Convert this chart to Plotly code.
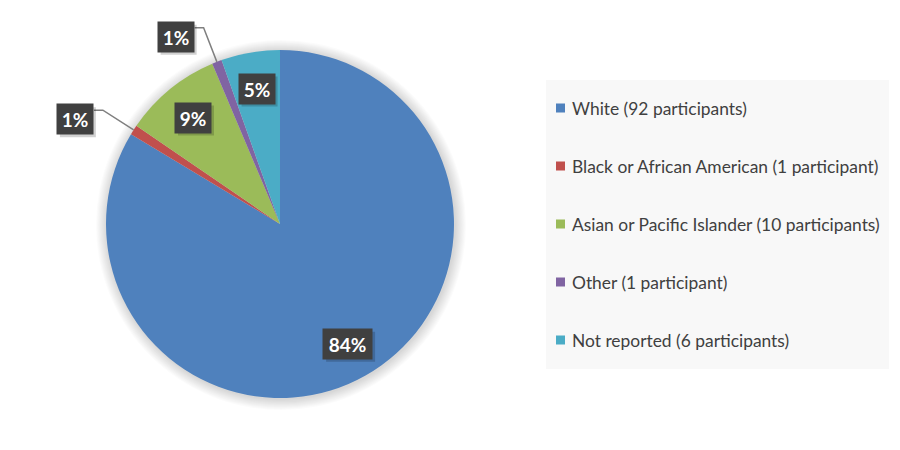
import math
import plotly.graph_objects as go

# data
categories = ["White", "Black or African American", "Asian or Pacific Islander",
              "Other", "Not reported"]
participants = [92, 1, 10, 1, 6]
colors = ["#4F81BD", "#C0504D", "#9BBB59", "#8064A2", "#4BACC6"]

W, H = 900, 450
OFF = 8                              # page body margin
cx, cy, R = 280, 224, 174            # pie centre and radius (window pixels)
total = sum(participants)


def px(x, y):
    """window pixel -> paper coordinates"""
    return (x - OFF) / W, 1 - (y - OFF) / H


fig = go.Figure()

d0 = px(cx - R, cy + R)
d1 = px(cx + R, cy - R)
fig.add_trace(go.Pie(
    labels=categories,
    values=participants,
    marker=dict(colors=colors, line=dict(width=0)),
    sort=False,
    direction="clockwise",
    rotation=0,
    textinfo="none",
    hoverinfo="label+value+percent",
    showlegend=False,
    domain=dict(x=[d0[0], d1[0]], y=[d0[1], d1[1]]),
))

shapes = []
annotations = []

# soft shadow round the pie
for i in range(1, 11):
    r = R + i * 1.1
    x0, y0 = px(cx - r + 1, cy - r + 1)
    x1, y1 = px(cx + r + 1, cy + r + 1)
    shapes.append(dict(type="circle", xref="paper", yref="paper", layer="below",
                       x0=x0, y0=y1, x1=x1, y1=y0, line=dict(width=0),
                       fillcolor="rgba(0,0,0,0.016)"))


def label_box(x, y, text):
    tw = 13 * len(text) + 4
    w, h = tw + 6, 30
    a = px(x - w / 2 + 3, y - h / 2 + 3)
    b = px(x + w / 2 + 3, y + h / 2 + 3)
    shapes.append(dict(type="rect", xref="paper", yref="paper",
                       x0=a[0], y0=b[1], x1=b[0], y1=a[1],
                       line=dict(width=0), fillcolor="rgba(0,0,0,0.18)"))
    ax, ay = px(x, y)
    annotations.append(dict(x=ax, y=ay, xref="paper", yref="paper", showarrow=False,
                            xanchor="center", yanchor="middle",
                            width=tw, height=h - 6, borderpad=3,
                            text="<b>%s</b>" % text, bgcolor="#404040",
                            font=dict(family="Lato", size=19, color="white")))


# percentage labels, placed from the slice angles
cum = 0
for val in participants:
    mid = (cum + val / 2) / total * 2 * math.pi
    cum += val
    pct = "%d%%" % round(val / total * 100)
    if val / total > 0.02:
        rr = 0.79 * R
        label_box(cx + math.sin(mid) * rr, cy - math.cos(mid) * rr, pct)
    else:
        ex, ey = cx + math.sin(mid) * R, cy - math.cos(mid) * R
        bx, by = cx + math.sin(mid) * 1.21 * R, cy - math.cos(mid) * 1.21 * R
        tx = bx - 9
        p = [px(ex, ey), px(bx, by), px(tx, by)]
        path = "M %f %f L %f %f L %f %f" % (p[0][0], p[0][1], p[1][0], p[1][1],
                                            p[2][0], p[2][1])
        shapes.append(dict(type="path", xref="paper", yref="paper", path=path,
                           line=dict(color="#7F7F7F", width=1.5)))
        label_box(tx - 19, by + 9, pct)

# legend
a = px(546, 80)
b = px(889, 369)
shapes.append(dict(type="rect", xref="paper", yref="paper", x0=a[0], y0=b[1],
                   x1=b[0], y1=a[1], line=dict(width=0), fillcolor="#F8F8F8",
                   layer="below"))
for i, (cat, n, col) in enumerate(zip(categories, participants, colors)):
    yy = 108 + i * 58
    s0 = px(556, yy - 4.5)
    s1 = px(565, yy + 4.5)
    shapes.append(dict(type="rect", xref="paper", yref="paper",
                       x0=s0[0], y0=s1[1], x1=s1[0], y1=s0[1],
                       line=dict(width=0), fillcolor=col))
    word = "participant" if n == 1 else "participants"
    tx, ty = px(570, yy)
    annotations.append(dict(x=tx, y=ty, xref="paper", yref="paper", showarrow=False,
                            xanchor="left", yanchor="middle",
                            text="%s (%d %s)" % (cat, n, word),
                            font=dict(family="Lato", size=17.4, color="#404040")))

fig.update_layout(
    width=W, height=H,
    margin=dict(l=0, r=0, t=0, b=0),
    paper_bgcolor="white",
    plot_bgcolor="white",
    shapes=shapes,
    annotations=annotations,
)

fig.write_html("out.html")
